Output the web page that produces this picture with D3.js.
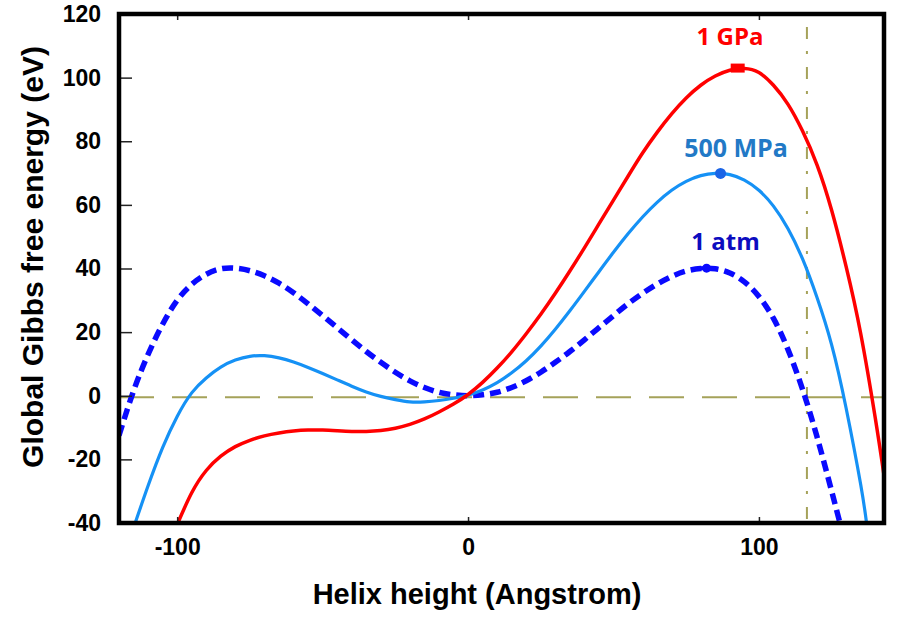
<!DOCTYPE html>
<head>
<meta charset="utf-8">
<script src="https://d3js.org/d3.v7.min.js"></script>
<style>
  body { margin: 0; background: #fff; }
  text { font-family: Arial, "Liberation Sans", sans-serif; font-weight: bold; }
  .tick text { font-size: 23px; fill: #000; }
  .tick line { stroke: #222; stroke-width: 1.5; }
  .lbl { font-family: "Open Sans", sans-serif; font-size: 24px; font-weight: bold; }
</style>
</head>
<body>
<div id="chart"></div>
<script>
// values (Angstrom, eV)
var xs_gpa = [-100,-95,-90,-85,-80,-75,-70,-65,-60,-55,-50,-45,-40,-35,-30,-25,-20,-15,-10,-5,0,5,10,15,20,25,30,35,40,45,50,55,60,65,70,75,80,85,90,95,100,105,110,115,120,125,130,135,140,143];
var e_gpa  = [-40.5,-30.5,-23.5,-19,-16,-14,-12.6,-11.7,-11.1,-10.8,-10.8,-11,-11.2,-11.2,-10.9,-10.2,-9,-7.3,-5.1,-2.6,0.4,4.2,8.7,13.8,19.5,25.6,32.2,39.2,46.5,54,61.5,69,76.3,82.8,88.6,93.6,97.6,100.5,102.3,102.9,101.6,97.6,91.6,83.2,72.5,58.3,40.5,19.5,-7,-25];

var xs_mpa = [-115,-110,-105,-100,-95,-90,-85,-80,-75,-70,-65,-60,-55,-50,-45,-40,-35,-30,-25,-20,-15,-10,-5,0,5,10,15,20,25,30,35,40,45,50,55,60,65,70,75,80,85,90,95,100,105,110,115,120,125,130,135,137];
var e_mpa  = [-41.5,-28.3,-16.3,-6.5,0.9,5.6,9,11.2,12.4,12.6,11.9,10.6,8.9,7,5,3,1.2,-0.2,-1.2,-1.9,-1.9,-1.5,-0.8,0.2,1.8,4.1,7.2,11,15.6,20.9,26.7,32.8,39,45.1,50.9,56.2,60.8,64.6,67.4,69.2,69.9,69.5,67.8,64.6,59.6,52.5,43,30.8,16,-4,-28,-40];

var xs_atm = [-120,-115,-110,-105,-100,-95,-90,-85,-80,-75,-70,-65,-60,-55,-50,-45,-40,-35,-30,-25,-20,-15,-10,-5,0,5,10,15,20,25,30,35,40,45,50,55,60,65,70,75,80,85,90,95,100,105,110,115,120,125,128];
var e_atm  = [-12.5,1.5,13,22.5,30,35,38.2,39.9,40.1,39.3,37.7,35.4,32.4,28.9,25.2,21.4,17.6,13.9,10.5,7.4,4.7,2.6,1.1,0.3,0,0.3,1.1,2.6,4.7,7.4,10.5,13.9,17.6,21.4,25.2,28.9,32.2,35.1,37.5,39.2,40,39.9,38.6,35.8,31.2,24.3,14.5,2,-13,-30,-40.5];

// barrier tops
var peakX = [92.7, 86.8, 82];
var peakE = [103, 69.9, 40.1];

var seriesNames = ["1 GPa", "500 MPa", "1 atm"];
var xTicks = [-100, 0, 100];
var yTicks = [-40, -20, 0, 20, 40, 60, 80, 100, 120];
var markLine = 116.5;   // dash-dot vertical line

var width = 900, height = 619;
var svg = d3.select("#chart").append("svg")
  .attr("width", width).attr("height", height);

var x = d3.scaleLinear().domain([-120, 143]).range([119, 884]);
var y = d3.scaleLinear().domain([-40, 120]).range([523, 14]);

svg.append("clipPath").attr("id", "plot")
  .append("rect")
  .attr("x", x(-120)).attr("y", y(120))
  .attr("width", x(143) - x(-120)).attr("height", y(-40) - y(120));

// reference lines
svg.append("line")
  .attr("x1", x(-120)).attr("x2", x(143))
  .attr("y1", y(0) + 1.5).attr("y2", y(0) + 1.5)
  .attr("stroke", "#a5a25a").attr("stroke-width", 2)
  .attr("stroke-dasharray", "35,18");

svg.append("line")
  .attr("x1", x(markLine)).attr("x2", x(markLine))
  .attr("y1", y(120)).attr("y2", y(-40))
  .attr("stroke", "#a5a25a").attr("stroke-width", 2)
  .attr("stroke-dasharray", "0,13,12,12,3,0");

var line = d3.line()
  .x(function(d) { return x(d[0]); })
  .y(function(d) { return y(d[1]); })
  .curve(d3.curveNatural);

var curves = svg.append("g").attr("clip-path", "url(#plot)");

curves.append("path")
  .datum(d3.zip(xs_atm, e_atm))
  .attr("d", line).attr("fill", "none")
  .attr("stroke", "#0a0aff").attr("stroke-width", 5.5)
  .attr("stroke-dasharray", "11,6");

curves.append("path")
  .datum(d3.zip(xs_mpa, e_mpa))
  .attr("d", line).attr("fill", "none")
  .attr("stroke", "#1591f5").attr("stroke-width", 3.2);

curves.append("path")
  .datum(d3.zip(xs_gpa, e_gpa))
  .attr("d", line).attr("fill", "none")
  .attr("stroke", "#ff0000").attr("stroke-width", 3.5);

// peak markers
svg.append("rect")
  .attr("x", x(peakX[0]) - 7).attr("y", y(peakE[0]) - 4.5)
  .attr("width", 14).attr("height", 9).attr("fill", "#ff0000");
svg.append("circle")
  .attr("cx", x(peakX[1])).attr("cy", y(peakE[1])).attr("r", 5.5)
  .attr("fill", "#1a64e6");
svg.append("line")
  .attr("x1", x(peakX[2]) - 9).attr("x2", x(peakX[2]) + 9)
  .attr("y1", y(peakE[2])).attr("y2", y(peakE[2]))
  .attr("stroke", "#0a0aff").attr("stroke-width", 4);
svg.append("circle")
  .attr("cx", x(peakX[2])).attr("cy", y(peakE[2])).attr("r", 4.5)
  .attr("fill", "#0a0aff");

// series labels
var lblX = [730, 736, 725.5], lblY = [45, 157, 250];
var lblC = ["#ff0000", "#2279c6", "#0c0cbf"];
seriesNames.forEach(function(n, i) {
  svg.append("text").attr("class", "lbl")
    .attr("x", lblX[i]).attr("y", lblY[i])
    .attr("text-anchor", "middle").attr("fill", lblC[i])
    .style("font-size", i == 1 ? "25px" : "24px")
    .text(n);
});

// axes (plain hyphen for negatives, like the original)
var plain = function(d) { return String(d); };

svg.append("g").attr("transform", "translate(" + x(-120) + ",0)")
  .call(d3.axisLeft(y).tickValues(yTicks).tickSize(-13).tickPadding(18).tickFormat(plain))
  .call(function(g) { g.select(".domain").remove(); });

svg.append("g").attr("transform", "translate(0," + y(-40) + ")")
  .call(d3.axisBottom(x).tickValues(xTicks).tickSize(-6).tickPadding(16).tickFormat(plain))
  .call(function(g) { g.select(".domain").remove(); });

svg.append("g").attr("transform", "translate(0," + y(120) + ")")
  .call(d3.axisTop(x).tickValues(xTicks).tickSize(-6).tickFormat(""))
  .call(function(g) { g.select(".domain").remove(); });

// frame
svg.append("rect")
  .attr("x", x(-120)).attr("y", y(120))
  .attr("width", x(143) - x(-120)).attr("height", y(-40) - y(120))
  .attr("fill", "none").attr("stroke", "#000").attr("stroke-width", 4.5);

// titles
svg.append("text")
  .attr("x", 477).attr("y", 604).attr("text-anchor", "middle")
  .style("font-size", "29px")
  .text("Helix height (Angstrom)");

svg.append("text")
  .attr("transform", "translate(43,257) rotate(-90)")
  .attr("text-anchor", "middle")
  .style("font-size", "30px")
  .text("Global Gibbs free energy (eV)");
</script>
</body>
